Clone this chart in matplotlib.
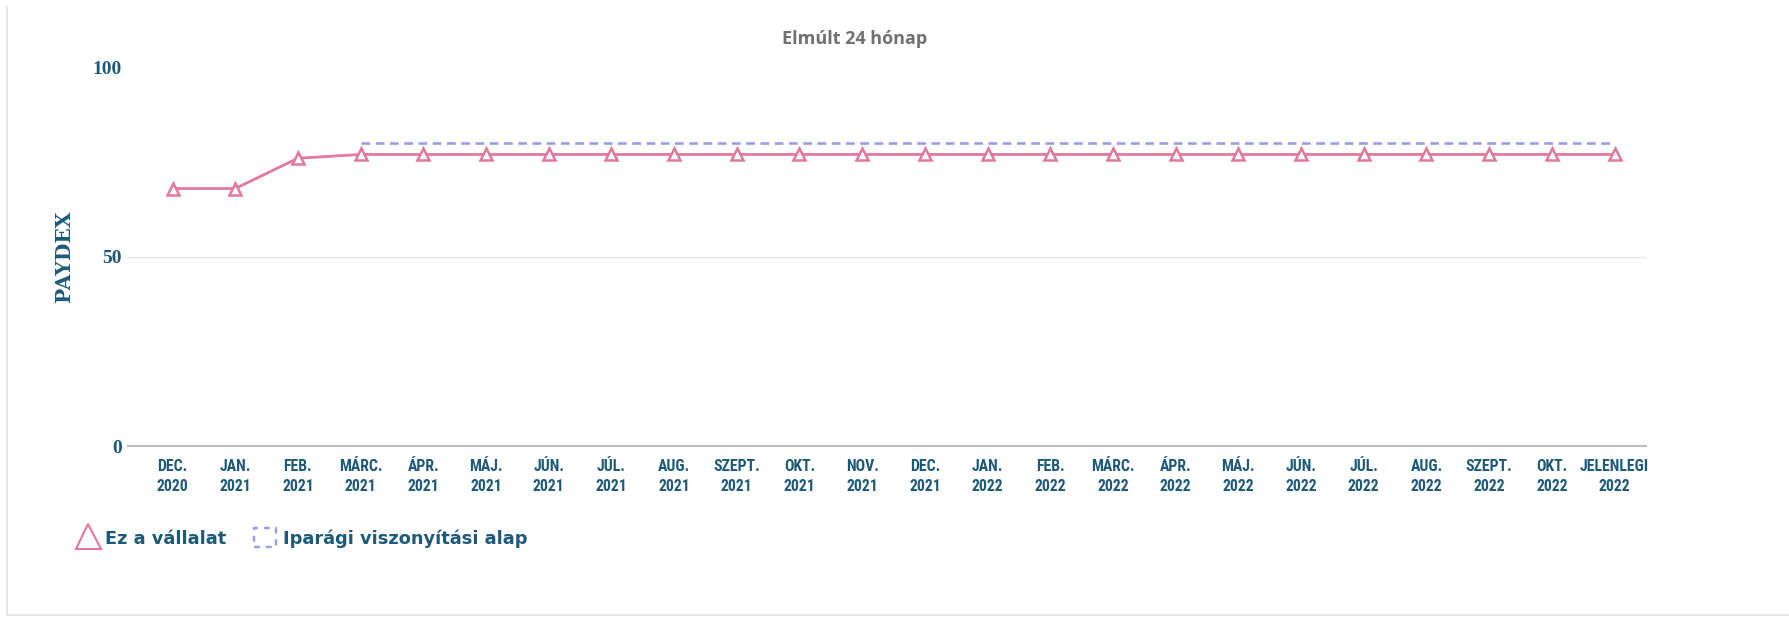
import numpy as np
import matplotlib
matplotlib.use("Agg")
import matplotlib.pyplot as plt
import matplotlib.font_manager as fm
from matplotlib.lines import Line2D
from matplotlib.patches import Patch

# -----------------------------
# Data
# -----------------------------
months = ["DEC.", "JAN.", "FEB.", "MÁRC.", "ÁPR.", "MÁJ.", "JÚN.", "JÚL.",
          "AUG.", "SZEPT.", "OKT.", "NOV.", "DEC.",
          "JAN.", "FEB.", "MÁRC.", "ÁPR.", "MÁJ.", "JÚN.", "JÚL.",
          "AUG.", "SZEPT.", "OKT.", "JELENLEGI"]
years = ["2020"] + ["2021"] * 12 + ["2022"] * 11
company = [68, 68, 76, 77, 77, 77, 77, 77, 77, 77, 77, 77, 77,
           77, 77, 77, 77, 77, 77, 77, 77, 77, 77, 77]
benchmark = [None, None, None, 80, 80, 80, 80, 80, 80, 80, 80, 80, 80,
             80, 80, 80, 80, 80, 80, 80, 80, 80, 80, 80]
yticks = [0, 50, 100]

title = "Elmúlt 24 hónap"
ylabel = "PAYDEX"
legend_labels = ["Ez a vállalat", "Iparági viszonyítási alap"]

# -----------------------------
# Style
# -----------------------------
pink = "#e2789a"
lilac = "#9a9ee0"
teal = "#1d5a79"
gray_title = "#707070"

names = {f.name for f in fm.fontManager.ttflist}
if "DejaVu Sans Condensed" in names:
    xfont = "DejaVu Sans Condensed"
elif "Roboto Condensed" in names:
    xfont = "Roboto Condensed"
else:
    xfont = "Roboto"

x = np.arange(len(months))
bench = np.array([np.nan if v is None else v for v in benchmark], dtype=float)

fig = plt.figure(figsize=(17.9, 6.17), dpi=100)
ax = fig.add_axes([0.0715, 0.2771, 0.848, 0.6137])

ax.plot(x, bench, color=lilac, lw=1.9, dashes=(3.3, 2.1), zorder=2)
ax.plot(x, company, color=pink, lw=2.0, marker="^", markersize=8.5,
        markerfacecolor="white", markeredgecolor=pink, markeredgewidth=1.8,
        zorder=3)

ax.set_xlim(-0.71, 23.5)
ax.set_ylim(0, 100)
ax.axhline(50, color="#e6e6e6", lw=1, zorder=1)

for s in ["top", "right", "left"]:
    ax.spines[s].set_visible(False)
ax.spines["bottom"].set_color("#bdbdbd")
ax.spines["bottom"].set_linewidth(1.5)

ax.set_xticks(x)
ax.set_xticklabels([f"{m}\n{y}" for m, y in zip(months, years)],
                   fontfamily=xfont, fontweight="bold", fontsize=11.3,
                   color=teal, linespacing=1.45)
ax.set_yticks(yticks)
ax.set_yticklabels([str(v) for v in yticks], fontfamily="Liberation Serif",
                   fontweight="bold", fontsize=14, color=teal)
ax.tick_params(axis="x", length=0, pad=9)
ax.tick_params(axis="y", length=0, pad=4.3)
ax.get_yticklabels()[-1].set_y(103)

ax.set_ylabel(ylabel, fontfamily="DejaVu Serif", fontweight="bold",
              fontsize=14.5, color=teal, va="center")
ax.yaxis.set_label_coords(-0.042, 0.5)

fig.text(855 / 1790, 1 - 39 / 617, title, ha="center", va="center",
         fontfamily="Open Sans", fontweight="bold", fontsize=13,
         color=gray_title)

handles = [
    Line2D([], [], color=pink, ls="none", marker="^", markersize=18,
           markerfacecolor="white", markeredgecolor=pink, markeredgewidth=1.5),
    Patch(facecolor="white", edgecolor=lilac, linestyle=(0, (2.5, 2.5)),
          linewidth=1.7),
]
fig.legend(handles, legend_labels, loc="center left",
           bbox_to_anchor=(77 / 1790, 1 - 538 / 617),
           bbox_transform=fig.transFigure, ncol=2, frameon=False,
           prop={"family": "DejaVu Sans", "weight": "bold", "size": 12.8},
           labelcolor=teal, handlelength=1.25, handleheight=1.25,
           handletextpad=0.35, columnspacing=1.55, borderpad=0,
           borderaxespad=0)

# thin frame on the left and bottom of the card
fig.add_artist(Line2D([7 / 1790, 7 / 1790], [1 - 7 / 617, 1 - 615 / 617],
                      transform=fig.transFigure, color="#dde2e7", lw=1.2))
fig.add_artist(Line2D([7 / 1790, 1], [1 - 615 / 617, 1 - 615 / 617],
                      transform=fig.transFigure, color="#dde2e7", lw=1.2))

fig.savefig("out.png", dpi=100)
